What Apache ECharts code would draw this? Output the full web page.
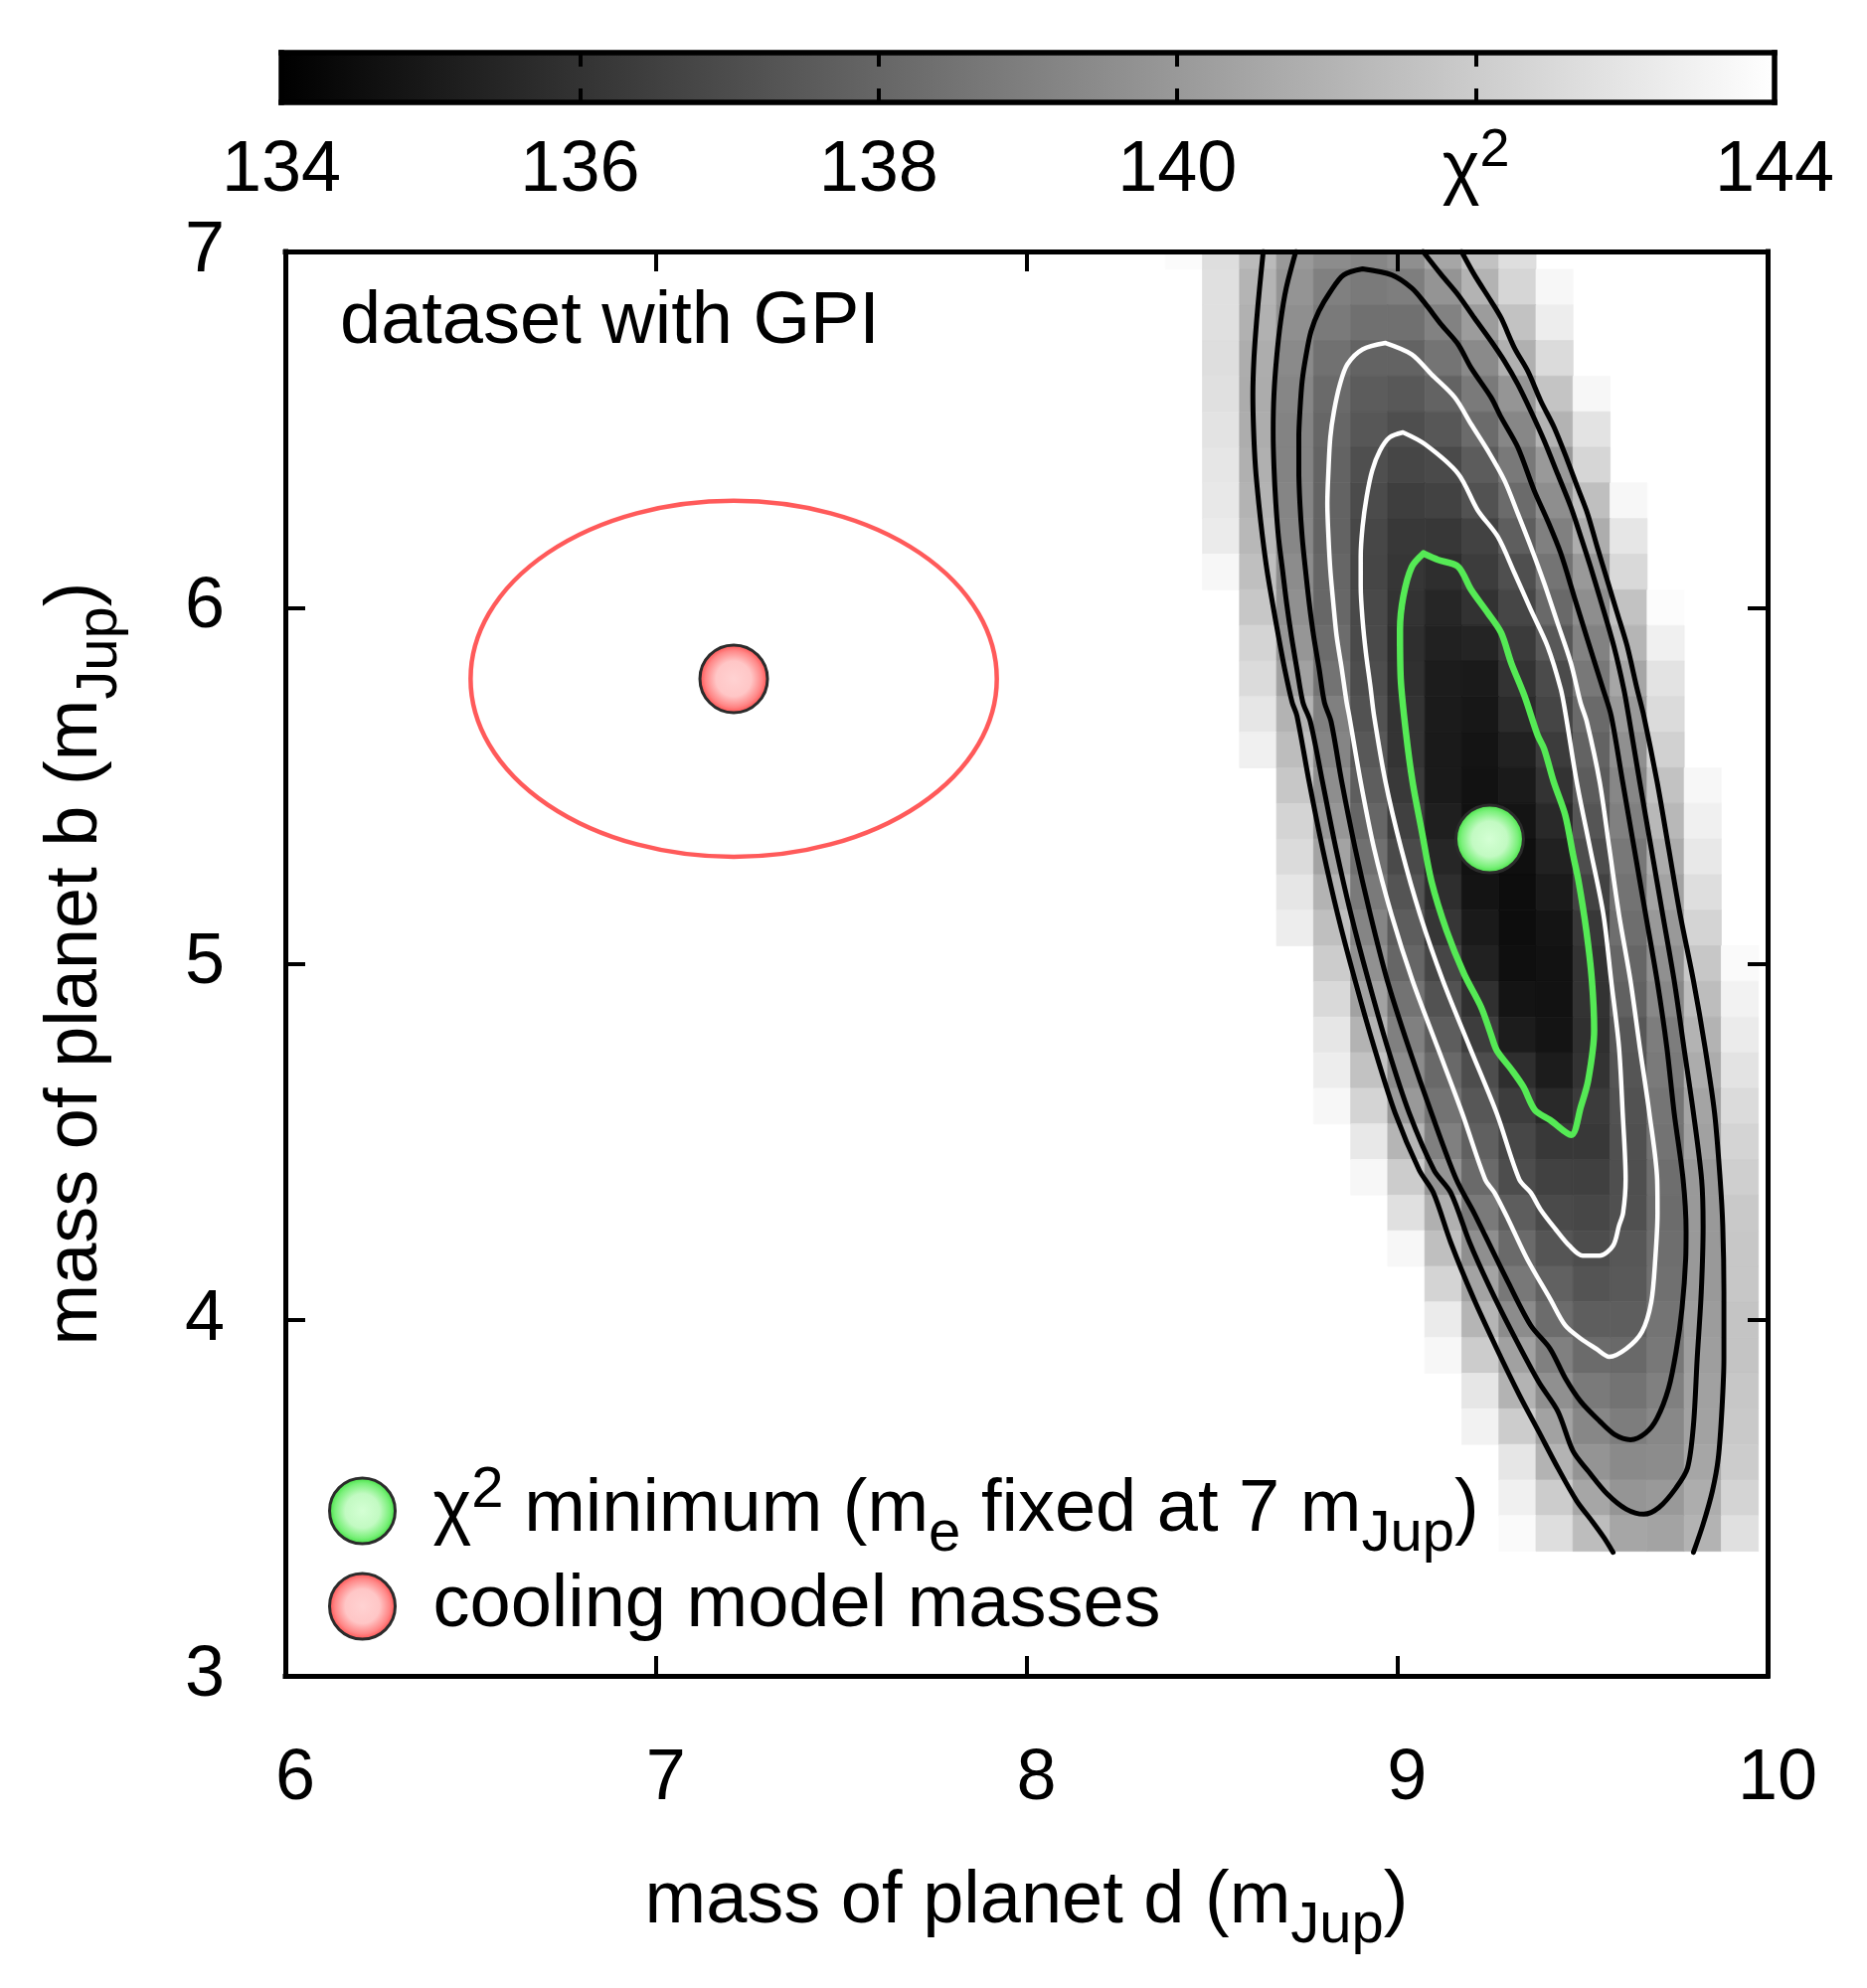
<!DOCTYPE html>
<html>
<head>
<meta charset="utf-8">
<script src="https://cdn.jsdelivr.net/npm/echarts@6.0.0/dist/echarts.min.js"></script>
<style>html,body{margin:0;padding:0;background:#fff}#c{width:1878px;height:2000px}</style>
</head>
<body>
<div id="c"></div>
<script>
// ---------------- data ----------------
const xRange = [6, 10];
const yRange = [3, 7];
const chi2Range = [134, 144];
const chi2TickLabels = [134, 136, 138, 140, 142, 144];   // 142 is labelled "χ²"
const grayRamp = ['#000000', '#ffffff'];
const cellSize = [0.1, 0.1];

const colX = [8.425, 8.525, 8.625, 8.725, 8.825, 8.925, 9.025, 9.125, 9.225, 9.325, 9.425, 9.525, 9.625, 9.725, 9.825, 9.925];
const rowY = [7.0, 6.9, 6.8, 6.7, 6.6, 6.5, 6.4, 6.3, 6.2, 6.1, 6.0, 5.9, 5.8, 5.7, 5.6, 5.5, 5.4, 5.3, 5.2, 5.1, 5.0,
              4.9, 4.8, 4.7, 4.6, 4.5, 4.4, 4.3, 4.2, 4.1, 4.0, 3.9, 3.8, 3.7, 3.6, 3.5, 3.4];
const _ = null;
const chi2Rows = [
  [143.85,142.7,141.3,140.0,139.5,139.25,139.6,140.5,141.6,142.7,_,_,_,_,_,_],
  [_,142.8,141.05,139.8,139.0,138.8,138.95,139.8,141.0,142.4,143.7,_,_,_,_,_],
  [_,142.8,140.95,139.6,138.8,138.4,138.4,139.1,140.1,141.6,143.3,_,_,_,_,_],
  [_,142.7,140.8,139.4,138.45,137.9,137.9,138.55,139.4,140.9,142.6,_,_,_,_,_],
  [_,142.8,140.75,139.25,138.15,137.6,137.45,137.9,138.8,139.85,141.7,143.7,_,_,_,_],
  [_,142.9,140.8,139.15,138.0,137.4,137.05,137.4,138.2,139.3,141.0,142.9,_,_,_,_],
  [_,143.0,140.9,139.15,137.9,137.1,136.75,136.9,137.6,138.75,140.0,142.4,_,_,_,_],
  [_,143.1,141.0,139.2,137.9,136.95,136.45,136.6,137.2,138.2,139.55,141.5,143.7,_,_,_],
  [_,143.2,141.2,139.3,137.9,136.8,136.2,136.15,136.6,137.7,139.0,140.8,143.0,_,_,_],
  [_,143.7,141.5,139.5,138.0,136.75,136.1,135.8,136.35,137.1,138.55,140.0,142.5,_,_,_],
  [_,_,141.8,139.65,138.05,136.85,136.0,135.5,135.95,136.75,138.1,139.55,141.6,143.9,_,_],
  [_,_,142.3,139.9,138.25,136.9,135.85,135.3,135.4,136.3,137.45,139.1,141.1,143.4,_,_],
  [_,_,142.6,140.3,138.5,137.0,135.9,135.1,135.0,136.0,136.95,138.7,140.5,142.9,_,_],
  [_,_,143.0,141.0,139.0,137.2,136.0,135.05,134.9,135.7,136.7,138.15,140.0,142.6,_,_],
  [_,_,143.4,141.4,139.2,137.45,136.05,135.0,134.8,135.3,136.35,137.9,139.65,142.2,_,_],
  [_,_,_,141.8,139.55,137.7,136.25,135.0,134.7,135.0,136.0,137.6,139.3,141.6,143.7,_],
  [_,_,_,142.3,139.9,138.0,136.5,135.2,134.65,134.8,135.6,137.35,139.0,141.2,143.4,_],
  [_,_,_,142.6,140.4,138.4,136.9,135.5,134.7,134.6,135.3,137.0,138.7,140.75,143.1,_],
  [_,_,_,143.0,141.0,138.8,137.3,135.8,134.8,134.5,135.0,136.6,138.5,140.4,142.7,_],
  [_,_,_,143.3,141.5,139.2,137.65,136.1,135.0,134.5,134.8,136.2,138.3,140.0,142.3,_],
  [_,_,_,_,142.0,139.7,138.0,136.75,135.3,134.6,134.7,136.0,138.0,139.65,141.8,143.8],
  [_,_,_,_,142.5,140.35,138.5,137.2,135.9,134.8,134.7,136.0,137.8,139.35,141.4,143.5],
  [_,_,_,_,143.0,141.0,139.0,137.65,136.4,135.1,134.8,135.9,137.4,138.9,141.0,143.2],
  [_,_,_,_,143.3,141.6,139.5,138.1,137.0,135.8,135.1,136.0,137.35,138.8,140.75,142.9],
  [_,_,_,_,143.7,142.3,140.0,138.5,137.4,136.4,135.6,136.3,137.2,138.6,140.45,142.6],
  [_,_,_,_,_,143.1,141.1,139.0,137.75,136.8,136.2,136.2,137.15,138.5,140.3,142.3],
  [_,_,_,_,_,143.7,142.0,139.8,138.15,137.0,136.55,136.5,137.1,138.3,140.0,142.1],
  [_,_,_,_,_,_,142.8,140.9,138.8,137.65,136.9,136.8,137.15,138.25,140.0,141.9],
  [_,_,_,_,_,_,143.7,141.5,139.6,138.15,137.35,137.0,137.4,138.3,140.0,141.8],
  [_,_,_,_,_,_,_,142.3,140.4,138.7,137.8,137.3,137.5,138.4,140.0,141.8],
  [_,_,_,_,_,_,_,143.2,141.1,139.5,138.25,137.7,137.7,138.55,140.1,141.7],
  [_,_,_,_,_,_,_,143.7,142.0,140.3,139.0,138.2,138.1,138.7,140.2,141.7],
  [_,_,_,_,_,_,_,_,143.0,141.0,139.65,138.8,138.5,139.0,140.3,141.8],
  [_,_,_,_,_,_,_,_,143.5,142.0,140.35,139.3,138.9,139.35,140.35,141.9],
  [_,_,_,_,_,_,_,_,_,143.0,141.0,139.8,139.4,139.5,140.5,142.0],
  [_,_,_,_,_,_,_,_,_,143.4,142.0,140.5,139.85,140.0,140.8,142.3],
  [_,_,_,_,_,_,_,_,_,143.8,142.7,141.4,140.5,140.4,141.0,142.8]
];

// contour polylines [mass d, mass b]
const contourOuterLeft = [[8.639,7.0],[8.629,6.897],[8.621,6.804],[8.614,6.701],[8.611,6.599],[8.613,6.497],[8.618,6.394],[8.627,6.292],[8.637,6.199],[8.649,6.106],[8.664,6.013],[8.680,5.920],[8.697,5.827],[8.717,5.734],[8.730,5.696],[8.763,5.510],[8.799,5.324],[8.840,5.138],[8.887,4.952],[8.938,4.766],[8.995,4.580],[9.06,4.42],[9.098,4.357],[9.145,4.217],[9.207,4.059],[9.269,3.919],[9.330,3.789],[9.382,3.687],[9.434,3.584],[9.485,3.491],[9.526,3.435],[9.558,3.389],[9.583,3.347]];
const contourOuterRight = [[9.174,7.0],[9.209,6.934],[9.254,6.860],[9.281,6.813],[9.317,6.729],[9.353,6.664],[9.388,6.580],[9.424,6.506],[9.460,6.413],[9.487,6.338],[9.514,6.264],[9.540,6.171],[9.567,6.078],[9.594,5.985],[9.621,5.892],[9.648,5.771],[9.666,5.696],[9.702,5.510],[9.733,5.324],[9.764,5.138],[9.800,4.952],[9.831,4.766],[9.857,4.580],[9.872,4.394],[9.879,4.264],[9.882,4.077],[9.882,3.891],[9.877,3.752],[9.867,3.612],[9.851,3.519],[9.826,3.426],[9.800,3.347]];
const contourMiddle = [[8.727,7.0],[8.701,6.897],[8.686,6.804],[8.675,6.701],[8.668,6.599],[8.666,6.497],[8.668,6.394],[8.673,6.292],[8.680,6.199],[8.691,6.106],[8.702,6.013],[8.715,5.920],[8.730,5.827],[8.746,5.734],[8.766,5.68],[8.799,5.510],[8.835,5.324],[8.876,5.138],[8.923,4.952],[8.974,4.766],[9.033,4.580],[9.10,4.42],[9.145,4.357],[9.196,4.217],[9.248,4.096],[9.310,3.966],[9.382,3.826],[9.434,3.743],[9.475,3.631],[9.516,3.575],[9.568,3.510],[9.619,3.468],[9.666,3.454],[9.707,3.473],[9.753,3.528],[9.784,3.584],[9.800,3.705],[9.810,3.891],[9.821,4.077],[9.826,4.264],[9.822,4.394],[9.800,4.580],[9.774,4.766],[9.748,4.952],[9.717,5.138],[9.686,5.324],[9.655,5.510],[9.625,5.696],[9.612,5.771],[9.585,5.892],[9.549,6.022],[9.522,6.115],[9.496,6.199],[9.469,6.283],[9.433,6.376],[9.397,6.469],[9.361,6.552],[9.326,6.627],[9.290,6.692],[9.254,6.748],[9.209,6.813],[9.165,6.878],[9.120,6.934],[9.07,7.0]];
const contourInnerBlack = [[8.907,6.951],[8.986,6.934],[9.040,6.897],[9.075,6.855],[9.120,6.794],[9.165,6.739],[9.200,6.673],[9.254,6.590],[9.281,6.534],[9.326,6.450],[9.370,6.329],[9.406,6.245],[9.442,6.152],[9.478,6.031],[9.514,5.910],[9.556,5.771],[9.578,5.696],[9.609,5.510],[9.640,5.324],[9.671,5.138],[9.702,4.952],[9.728,4.766],[9.748,4.580],[9.772,4.394],[9.780,4.25],[9.779,4.171],[9.769,4.031],[9.753,3.910],[9.733,3.808],[9.702,3.724],[9.671,3.682],[9.630,3.663],[9.588,3.677],[9.547,3.715],[9.496,3.770],[9.454,3.836],[9.413,3.919],[9.361,3.984],[9.300,4.105],[9.238,4.236],[9.208,4.30],[9.160,4.394],[9.093,4.580],[9.031,4.766],[8.974,4.952],[8.928,5.138],[8.887,5.324],[8.851,5.510],[8.822,5.68],[8.804,5.734],[8.790,5.827],[8.775,5.920],[8.763,6.013],[8.753,6.106],[8.744,6.199],[8.738,6.292],[8.735,6.385],[8.735,6.478],[8.738,6.552],[8.744,6.636],[8.755,6.711],[8.768,6.776],[8.789,6.832],[8.820,6.887],[8.856,6.934],[8.907,6.951]];
const contourOuterWhite = [[8.969,6.743],[9.040,6.711],[9.093,6.655],[9.156,6.590],[9.200,6.515],[9.245,6.441],[9.290,6.357],[9.326,6.264],[9.361,6.171],[9.397,6.069],[9.433,5.957],[9.469,5.845],[9.495,5.734],[9.512,5.68],[9.547,5.510],[9.573,5.324],[9.599,5.138],[9.630,4.952],[9.655,4.766],[9.681,4.580],[9.702,4.394],[9.703,4.30],[9.697,4.171],[9.686,4.049],[9.661,3.966],[9.619,3.919],[9.573,3.896],[9.537,3.919],[9.496,3.947],[9.454,3.984],[9.413,4.059],[9.351,4.171],[9.300,4.282],[9.263,4.357],[9.238,4.394],[9.176,4.580],[9.109,4.766],[9.042,4.952],[8.985,5.138],[8.938,5.324],[8.902,5.510],[8.871,5.696],[8.864,5.734],[8.851,5.827],[8.837,5.920],[8.828,6.013],[8.820,6.106],[8.815,6.199],[8.812,6.292],[8.815,6.385],[8.820,6.478],[8.830,6.552],[8.846,6.627],[8.866,6.683],[8.907,6.725],[8.969,6.743]];
const contourInnerWhite = [[9.016,6.492],[9.075,6.459],[9.165,6.376],[9.218,6.273],[9.272,6.199],[9.317,6.097],[9.361,5.994],[9.406,5.892],[9.442,5.771],[9.455,5.70],[9.485,5.510],[9.521,5.324],[9.557,5.138],[9.578,4.952],[9.599,4.766],[9.609,4.580],[9.617,4.394],[9.610,4.30],[9.599,4.264],[9.583,4.208],[9.547,4.180],[9.501,4.180],[9.465,4.208],[9.428,4.254],[9.387,4.310],[9.361,4.357],[9.330,4.394],[9.269,4.580],[9.196,4.766],[9.124,4.952],[9.062,5.138],[9.011,5.324],[8.969,5.510],[8.938,5.696],[8.928,5.780],[8.916,5.873],[8.907,5.966],[8.902,6.059],[8.902,6.143],[8.907,6.227],[8.918,6.311],[8.933,6.385],[8.954,6.441],[8.980,6.478],[9.016,6.492]];
const contourGreen = [[9.071,6.152],[9.111,6.134],[9.165,6.115],[9.200,6.050],[9.245,5.985],[9.281,5.929],[9.308,5.845],[9.344,5.752],[9.380,5.640],[9.397,5.603],[9.423,5.510],[9.454,5.417],[9.475,5.306],[9.490,5.231],[9.511,5.092],[9.526,4.952],[9.532,4.813],[9.516,4.673],[9.496,4.598],[9.470,4.519],[9.413,4.561],[9.372,4.589],[9.341,4.654],[9.310,4.701],[9.269,4.757],[9.253,4.803],[9.227,4.878],[9.181,4.971],[9.134,5.092],[9.093,5.231],[9.067,5.371],[9.042,5.510],[9.024,5.650],[9.010,5.800],[9.008,5.938],[9.017,6.031],[9.040,6.115],[9.071,6.152]];

const chi2Minimum = [[9.25, 5.35]];
const coolingMasses = [[7.21, 5.80]];
const coolingError = [[7.21, 5.80, 0.71, 0.50]];   // centre d, centre b, half-width d, half-height b

const nameMin = 'χ2 minimum (me fixed at 7 mJup)';
const nameCool = 'cooling model masses';
const panelLabel = 'dataset with GPI';

// ---------------- styling ----------------
const FONT = "'Liberation Sans', Arial, Helvetica, sans-serif";
const rich = {
  n:   {fontSize: 74, lineHeight: 86, fontFamily: FONT, color: '#000'},
  sub: {fontSize: 58, lineHeight: 86, padding: [48, 0, 0, 0], fontFamily: FONT, color: '#000'},
  sup: {fontSize: 58, lineHeight: 86, padding: [0, 0, 40, 0], fontFamily: FONT, color: '#000'}
};
const richCb = {
  n:   {fontSize: 72, lineHeight: 84, fontFamily: FONT, color: '#000'},
  sup: {fontSize: 54, lineHeight: 84, padding: [0, 0, 40, 0], fontFamily: FONT, color: '#000'}
};
const gradGreen = {type: 'radial', x: 0.5, y: 0.5, r: 0.5, colorStops: [
  {offset: 0, color: '#d4ffd4'}, {offset: 0.5, color: '#c2fac2'}, {offset: 0.8, color: '#7af07a'}, {offset: 1, color: '#38de38'}]};
const gradRed = {type: 'radial', x: 0.5, y: 0.5, r: 0.5, colorStops: [
  {offset: 0, color: '#ffd2d2'}, {offset: 0.5, color: '#ffc6c6'}, {offset: 0.8, color: '#ff8686'}, {offset: 1, color: '#ff4545'}]};

const heatData = [];
rowY.forEach((y, j) => chi2Rows[j].forEach((v, i) => { if (v !== null) heatData.push([colX[i], y, v]); }));

const frameLine = {show: true, onZero: false, lineStyle: {color: '#000', width: 5, cap: 'square'}};
const frameTick = {show: true, inside: true, length: 20, lineStyle: {color: '#000', width: 4}};
const cbLine = {show: true, onZero: false, lineStyle: {color: '#000', width: 5.5, cap: 'square'}};
const cbTick = {show: true, inside: true, length: 14, lineStyle: {color: '#000', width: 4}};

function lineSeries(data, color, width, z) {
  return {type: 'line', xAxisIndex: 0, yAxisIndex: 0, data: data, showSymbol: false, symbol: 'none',
    smooth: 0.3, clip: true, silent: true, z: z,
    lineStyle: {color: color, width: width, cap: 'round', join: 'round'}};
}

function legendFmt(name) {
  if (name === nameMin) return '{n|χ}{sup|2}{n| minimum (m}{sub|e}{n| fixed at 7 m}{sub|Jup}{n|)}';
  return '{n|' + name + '}';
}
function legendOf(name, grad, top) {
  return {data: [{name: name, icon: 'circle', itemStyle: {color: grad, borderColor: '#2b2b2b', borderWidth: 3}}],
    left: 330, top: top, padding: 0, orient: 'vertical', itemWidth: 66, itemHeight: 66, selectedMode: false,
    formatter: legendFmt,
    textStyle: {fontSize: 74, lineHeight: 86, fontFamily: FONT, color: '#000', padding: [0, 0, 0, 33], rich: rich}};
}

const chart = echarts.init(document.getElementById('c'), null, {renderer: 'canvas', width: 1878, height: 2000});
chart.setOption({
  animation: false,
  backgroundColor: '#ffffff',
  textStyle: {fontFamily: FONT},
  title: {text: panelLabel, left: 342, top: 288, padding: 0,
    textStyle: {fontSize: 74, lineHeight: 74, fontWeight: 'normal', fontFamily: FONT, color: '#000'}},
  grid: [
    {left: 287, top: 253, width: 1491, height: 1433, show: false, containLabel: false, outerBoundsMode: 'none'},
    {left: 283, top: 53, width: 1502, height: 50, show: false, containLabel: false, outerBoundsMode: 'none'}
  ],
  visualMap: {type: 'continuous', show: false, seriesIndex: 0, dimension: 2,
    min: chi2Range[0], max: chi2Range[1], inRange: {color: grayRamp}},
  legend: [legendOf(nameMin, gradGreen, 1467), legendOf(nameCool, gradRed, 1573)],
  xAxis: [
    {gridIndex: 0, type: 'value', position: 'bottom', min: xRange[0], max: xRange[1], interval: 1, z: 10,
      axisLine: frameLine, axisTick: frameTick, splitLine: {show: false},
      axisLabel: {fontSize: 72, lineHeight: 72, fontFamily: FONT, color: '#000', margin: 68, padding: [0, 0, 0, 20],
        showMinLabel: true, showMaxLabel: true},
      name: '{n|mass of planet d (m}{sub|Jup}{n|)}', nameLocation: 'middle', nameGap: 185,
      nameTextStyle: {fontSize: 74, lineHeight: 86, fontFamily: FONT, color: '#000', rich: rich}},
    {gridIndex: 0, type: 'value', position: 'top', min: xRange[0], max: xRange[1], interval: 1, z: 10,
      axisLine: frameLine, axisTick: frameTick, splitLine: {show: false}, axisLabel: {show: false}},
    {gridIndex: 1, type: 'value', position: 'bottom', min: chi2Range[0], max: chi2Range[1], interval: 2, z: 10,
      axisLine: cbLine, axisTick: cbTick, splitLine: {show: false},
      axisLabel: {margin: 27, showMinLabel: true, showMaxLabel: true, rich: richCb,
        formatter: v => (v === chi2TickLabels[4] ? '{n|χ}{sup|2}' : '{n|' + v + '}')}},
    {gridIndex: 1, type: 'value', position: 'top', min: chi2Range[0], max: chi2Range[1], interval: 2, z: 10,
      axisLine: cbLine, axisTick: cbTick, splitLine: {show: false}, axisLabel: {show: false}}
  ],
  yAxis: [
    {gridIndex: 0, type: 'value', position: 'left', min: yRange[0], max: yRange[1], interval: 1, z: 10,
      axisLine: frameLine, axisTick: frameTick, splitLine: {show: false},
      axisLabel: {fontSize: 72, lineHeight: 72, fontFamily: FONT, color: '#000', margin: 61, padding: [12, 0, 0, 0],
        showMinLabel: true, showMaxLabel: true},
      name: '{n|mass of planet b (m}{sub|Jup}{n|)}', nameLocation: 'middle', nameGap: 167,
      nameTextStyle: {fontSize: 74, lineHeight: 86, fontFamily: FONT, color: '#000', rich: rich}},
    {gridIndex: 0, type: 'value', position: 'right', min: yRange[0], max: yRange[1], interval: 1, z: 10,
      axisLine: frameLine, axisTick: frameTick, splitLine: {show: false}, axisLabel: {show: false}},
    {gridIndex: 1, type: 'value', position: 'left', min: 0, max: 1, z: 10,
      axisLine: cbLine, axisTick: {show: false}, splitLine: {show: false}, axisLabel: {show: false}},
    {gridIndex: 1, type: 'value', position: 'right', min: 0, max: 1, z: 10,
      axisLine: cbLine, axisTick: {show: false}, splitLine: {show: false}, axisLabel: {show: false}}
  ],
  series: [
    {type: 'custom', name: 'chi2 map', xAxisIndex: 0, yAxisIndex: 0, data: heatData, clip: true, silent: true, z: 1,
      encode: {x: 0, y: 1},
      renderItem: function (params, api) {
        const x = api.value(0), y = api.value(1);
        const p0 = api.coord([x - cellSize[0] / 2, y + cellSize[1] / 2]);
        const p1 = api.coord([x + cellSize[0] / 2, y - cellSize[1] / 2]);
        const col = api.visual('color');
        return {type: 'rect', shape: {x: p0[0], y: p0[1], width: p1[0] - p0[0], height: p1[1] - p0[1]},
          style: {fill: col, stroke: col, lineWidth: 0.8}};
      }},
    {type: 'custom', name: 'colorbar', xAxisIndex: 2, yAxisIndex: 2, data: [chi2Range], silent: true, z: 1,
      renderItem: function (params, api) {
        const p0 = api.coord([api.value(0), 1]);
        const p1 = api.coord([api.value(1), 0]);
        return {type: 'rect', shape: {x: p0[0], y: p0[1], width: p1[0] - p0[0], height: p1[1] - p0[1]},
          style: {fill: new echarts.graphic.LinearGradient(0, 0, 1, 0,
            [{offset: 0, color: grayRamp[0]}, {offset: 1, color: grayRamp[1]}])}};
      }},
    lineSeries(contourOuterLeft, '#000', 5, 3),
    lineSeries(contourOuterRight, '#000', 5, 3),
    lineSeries(contourMiddle, '#000', 5, 3),
    lineSeries(contourInnerBlack, '#000', 5, 3),
    lineSeries(contourOuterWhite, '#ffffff', 4.5, 3),
    lineSeries(contourInnerWhite, '#ffffff', 4.5, 3),
    lineSeries(contourGreen, '#55ea55', 6.5, 4),
    {type: 'custom', name: 'cooling error', xAxisIndex: 0, yAxisIndex: 0, data: coolingError, silent: true, z: 4,
      renderItem: function (params, api) {
        const c = api.coord([api.value(0), api.value(1)]);
        const s = api.size([api.value(2), api.value(3)]);
        const rx = s[0], ry = s[1];
        const d = 'M ' + (c[0] - rx) + ' ' + c[1] +
          ' A ' + rx + ' ' + ry + ' 0 1 0 ' + (c[0] + rx) + ' ' + c[1] +
          ' A ' + rx + ' ' + ry + ' 0 1 0 ' + (c[0] - rx) + ' ' + c[1] + ' Z';
        return {type: 'path', shape: {pathData: d}, style: {fill: 'none', stroke: '#ff5a5a', lineWidth: 4.5}};
      }},
    {type: 'scatter', name: nameCool, xAxisIndex: 0, yAxisIndex: 0, data: coolingMasses, symbol: 'circle',
      symbolSize: 68, z: 6, silent: true,
      itemStyle: {color: gradRed, borderColor: '#2b2b2b', borderWidth: 3, opacity: 1}},
    {type: 'scatter', name: nameMin, xAxisIndex: 0, yAxisIndex: 0, data: chi2Minimum, symbol: 'circle',
      symbolSize: 68, z: 6, silent: true,
      itemStyle: {color: gradGreen, borderColor: '#2b2b2b', borderWidth: 3, opacity: 1}}
  ]
});
</script>
</body>
</html>
